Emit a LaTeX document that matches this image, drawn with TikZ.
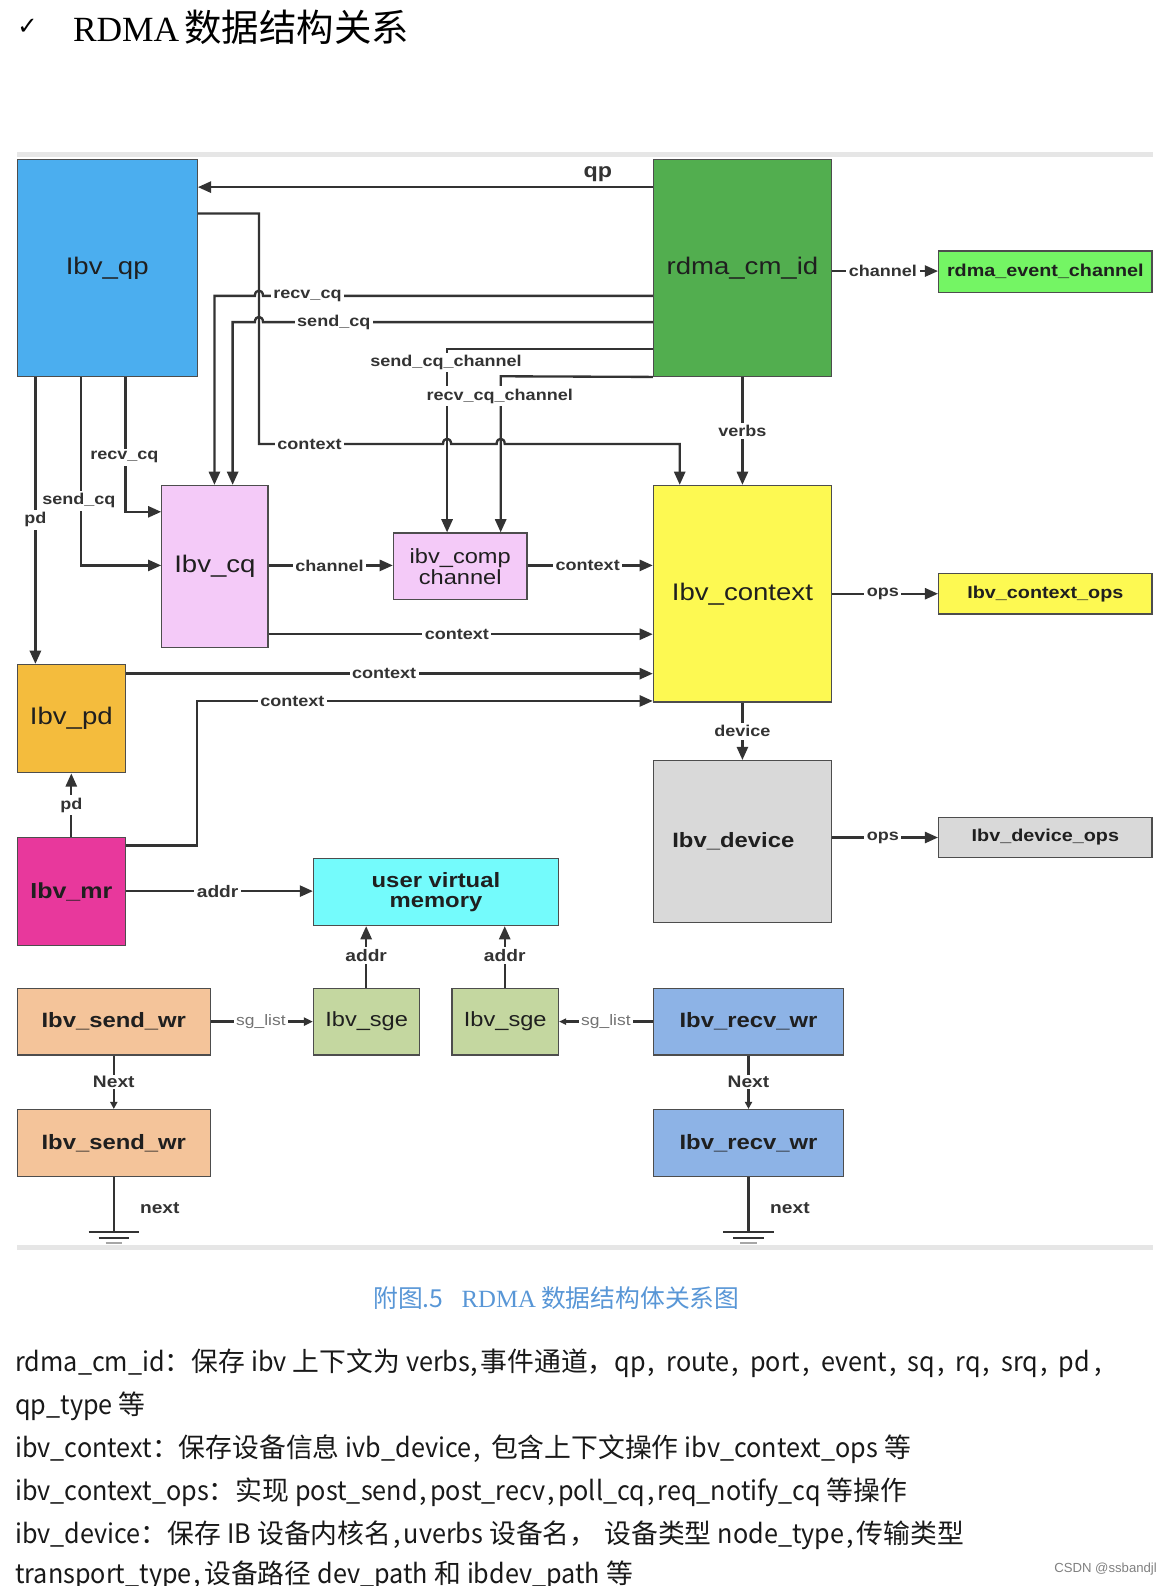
\documentclass[tikz,border=0pt]{standalone}
\usepackage{fontspec}
\setmainfont{Liberation Sans}
\newfontfamily\nf[FakeStretch=1.15]{Liberation Sans}
\newfontfamily\plainsans{Liberation Sans}
\newfontfamily\cjk{Noto Sans CJK SC}
\newfontfamily\latf[FakeStretch=0.94]{Noto Sans CJK SC}
\newfontfamily\serifrm{Liberation Serif}
\newfontfamily\dvs{DejaVu Sans}
\usetikzlibrary{arrows.meta}
\definecolor{cqp}{HTML}{4BAEEF}
\definecolor{ccm}{HTML}{52AE4F}
\definecolor{cevt}{HTML}{74F564}
\definecolor{cpink}{HTML}{F4CAF8}
\definecolor{cyel}{HTML}{FDF952}
\definecolor{cdev}{HTML}{D9D9D9}
\definecolor{cpd}{HTML}{F4BC3D}
\definecolor{cmr}{HTML}{E8389C}
\definecolor{cuvm}{HTML}{74FBFC}
\definecolor{cswr}{HTML}{F4C49A}
\definecolor{csge}{HTML}{C4D7A0}
\definecolor{crwr}{HTML}{8DB3E6}
\definecolor{cline}{HTML}{333333}
\definecolor{cbord}{HTML}{4D4D4D}
\definecolor{csep}{HTML}{E6E6E6}
\definecolor{ccap}{HTML}{5896D6}
\newcommand\fbig{\nf\fontsize{23.7}{26}\selectfont}
\newcommand\fbld{\nf\bfseries\fontsize{20.5}{21}\selectfont}
\newcommand\fmid{\nf\fontsize{20.3}{22}\selectfont}
\newcommand\fops{\nf\bfseries\fontsize{17}{20}\selectfont}
\newcommand\flab{\nf\bfseries\fontsize{15.5}{18}\selectfont}
\newcommand\fnxt{\nf\bfseries\fontsize{16.5}{18}\selectfont}
\newcommand\fbody{\cjk\fontsize{26.5}{30}\selectfont}
\newcommand\la[1]{{\latf #1}}
\newcommand\cc{\hspace{2pt},\hspace{11pt}}
\newcommand\nc{\hspace{2pt},\hspace{3pt}}
\begin{document}
\begin{tikzpicture}[x=1pt,y=-1pt,
  box/.style={draw=cbord, line width=1.3pt, inner sep=0pt, text=black!88},
  conn/.style={draw=cline, line width=2.3pt},
  arr/.style={conn, -{Triangle[length=13pt,width=11pt]}},
  sarr/.style={conn, -{Triangle[length=7pt,width=7pt]}},
  lab/.style={fill=white, inner sep=2.5pt, text=cline, font=\flab},
  bodyline/.style={anchor=base west, inner sep=0pt, font=\fbody, text=black!90},
]
\useasboundingbox (0,0) rectangle (1159,1568);
% title
\node[anchor=west, inner sep=0pt] (tick) at (17,27) {\dvs\fontsize{24}{28}\selectfont ✓};
\node[anchor=west, inner sep=0pt] (title) at (72,27) {\serifrm\fontsize{35}{40}\selectfont RDMA\hspace{5pt}\cjk\fontsize{37}{40}\selectfont 数据结构关系};
% separators
\fill[csep] (17,150) rectangle (1140,155);
\fill[csep] (17,1231) rectangle (1140,1236);
% boxes
\node[box, fill=cqp, minimum width=178pt, minimum height=214pt, font=\fbig] (qp) at (106,265) {Ibv\_qp};
\node[box, fill=ccm, minimum width=176pt, minimum height=214pt, font=\fbig] (cm) at (734,265) {rdma\_cm\_id};
\node[box, fill=cevt, minimum width=211pt, minimum height=41pt, font=\fops] (evt) at (1033.5,268.5) {rdma\_event\_channel};
\node[box, fill=cpink, minimum width=105pt, minimum height=160pt, font=\fbig] (cq) at (212.5,560) {Ibv\_cq};
\node[box, fill=cpink, minimum width=132pt, minimum height=66pt, font=\fmid, align=center] (comp) at (455,560) {ibv\_comp\\[-1pt]channel};
\node[box, fill=cyel, minimum width=176pt, minimum height=214pt, font=\fbig] (ctx) at (734,587) {Ibv\_context};
\node[box, fill=cyel, minimum width=211pt, minimum height=40pt, font=\fops] (ctxops) at (1033.5,587) {Ibv\_context\_ops};
\node[box, fill=cdev, minimum width=176pt, minimum height=160pt, font=\fbld] (dev) at (734,832) {\hspace{-18pt}Ibv\_device};
\node[box, fill=cdev, minimum width=211pt, minimum height=40pt, font=\fops] (devops) at (1033.5,828) {Ibv\_device\_ops};
\node[box, fill=cpd, minimum width=107pt, minimum height=107pt, font=\fbig] (pd) at (70.5,710.5) {Ibv\_pd};
\node[box, fill=cmr, minimum width=107pt, minimum height=107pt, font=\nf\bfseries\fontsize{21.5}{24}\selectfont] (mr) at (70.5,881.5) {Ibv\_mr};
\node[box, fill=cuvm, minimum width=242pt, minimum height=66pt, font=\fbld, align=center] (uvm) at (431,882) {user virtual\\[-1pt]memory};
\node[box, fill=cswr, minimum width=191pt, minimum height=66pt, font=\fbld] (swr1) at (112.5,1010) {Ibv\_send\_wr};
\node[box, fill=csge, minimum width=105pt, minimum height=66pt, font=\fmid] (sge1) at (362.5,1010) {Ibv\_sge};
\node[box, fill=csge, minimum width=105pt, minimum height=66pt, font=\fmid] (sge2) at (499.5,1010) {Ibv\_sge};
\node[box, fill=crwr, minimum width=188pt, minimum height=66pt, font=\fbld] (rwr1) at (740,1010) {Ibv\_recv\_wr};
\node[box, fill=cswr, minimum width=191pt, minimum height=66pt, font=\fbld] (swr2) at (112.5,1130) {Ibv\_send\_wr};
\node[box, fill=crwr, minimum width=188pt, minimum height=66pt, font=\fbld] (rwr2) at (740,1130) {Ibv\_recv\_wr};
% connectors
\draw[arr] (cm.west |- 0,185) -- (qp.east |- 0,185);
\node[inner sep=0pt, text=cline, font=\nf\bfseries\fontsize{20}{22}\selectfont] (lqp) at (591,172) {qp};
\draw[arr] (cm.east |- 0,268) -- (evt.west |- 0,268) node[lab, pos=0.48] (lch) {channel};
% context from qp (hops over the two channel lines)
\draw[arr] (qp.east |- 0,211) -- (256,211) -- (256,439) -- (438,439)
   .. controls (438,432) and (446,432) .. (446,439) -- (491,439)
   .. controls (491,432) and (499,432) .. (499,439) -- (672,439) -- (ctx.north -| 672,0);
\node[lab] (lctx1) at (306,439) {context};
% recv_cq / send_cq from cm_id (hop over x=256)
\draw[arr] (cm.west |- 0,292.5) -- (260,292.5) .. controls (260,285.5) and (252,285.5) .. (252,292.5) -- (212,292.5) -- (cq.north -| 212,0);
\node[lab] (lrcq) at (304,292.5) {recv\_cq};
\draw[arr] (cm.west |- 0,318.5) -- (260,318.5) .. controls (260,311.5) and (252,311.5) .. (252,318.5) -- (230,318.5) -- (cq.north -| 230,0);
\node[lab] (lscq) at (330,318.5) {send\_cq};
% channels
\draw[arr] (cm.west |- 0,345) -- (442,345) -- (comp.north -| 442,0);
\draw[arr] (cm.south west) -- (495,372) -- (comp.north -| 495,0);
\node[lab] (lscc) at (441,358.5) {send\_cq\_channel};
\node[lab] (lrcc) at (494,391.5) {recv\_cq\_channel};
% verbs
\draw[arr] (cm.south) -- (ctx.north) node[lab, midway] (lverbs) {verbs};
% from qp bottom
\draw[arr] (qp.south -| 35,0) -- (pd.north -| 35,0);
\node[lab] (lpd1) at (35,514) {pd};
\draw[arr] (qp.south -| 80,0) -- (80,559) -- (cq.west |- 0,559);
\node[lab] (lscq2) at (78,495) {send\_cq};
\draw[arr] (qp.south -| 124,0) -- (124,506) -- (cq.west |- 0,506);
\node[lab] (lrcq2) at (123,452) {recv\_cq};
% cq -> comp -> ctx
\draw[arr] (cq.east |- 0,559) -- (comp.west |- 0,559) node[lab, pos=0.49] (lch2) {channel};
\draw[arr] (comp.east |- 0,559) -- (ctx.west |- 0,559) node[lab, pos=0.48] (lctx2) {context};
\draw[arr] (cq.east |- 0,627) -- (ctx.west |- 0,627) node[lab, pos=0.49] (lctx3) {context};
\draw[arr] (pd.east |- 0,666) -- (ctx.west |- 0,666) node[lab, pos=0.49] (lctx4) {context};
\draw[arr] (mr.east |- 0,836) -- (195,836) -- (195,693) -- (ctx.west |- 0,693);
\node[lab] (lctx5) at (289,693) {context};
\draw[arr] (mr.north) -- (pd.south) node[lab, midway] (lpd2) {pd};
% ctx right/bottom
\draw[arr] (ctx.east) -- (ctxops.west) node[lab, pos=0.48] (lops1) {ops};
\draw[arr] (ctx.south) -- (dev.north) node[lab, midway] (ldev) {device};
\draw[arr] (dev.east |- 0,828) -- (devops.west) node[lab, pos=0.48] (lops2) {ops};
% memory
\draw[arr] (mr.east |- 0,881) -- (uvm.west |- 0,881) node[lab, font=\fnxt, pos=0.49] (laddr1) {addr};
\draw[arr] (sge1.north -| 362,0) -- (uvm.south -| 362,0) node[lab, font=\fnxt, pos=0.52] (laddr2) {addr};
\draw[arr] (sge2.north -| 499,0) -- (uvm.south -| 499,0) node[lab, font=\fnxt, pos=0.52] (laddr3) {addr};
% sg lists
\draw[conn, -{Triangle[length=9pt,width=8pt]}] (swr1.east) -- (sge1.west) node[lab, pos=0.49, font=\nf\fontsize{15}{18}\selectfont, text=black!55] (lsg1) {sg\_list};
\draw[conn, -{Triangle[length=7pt,width=6pt]}] (rwr1.west) -- (sge2.east) node[lab, pos=0.5, font=\nf\fontsize{15}{18}\selectfont, text=black!55] (lsg2) {sg\_list};
% next chains
\draw[sarr] (swr1.south) -- (swr2.north) node[lab, midway, font=\fnxt, inner sep=1pt] (lnx1) {Next};
\draw[sarr] (rwr1.south) -- (rwr2.north) node[lab, midway, font=\fnxt, inner sep=1pt] (lnx2) {Next};
% grounds
\coordinate (g1) at (112.5,1218);
\coordinate (g2) at (740,1218);
\draw[conn] (swr2.south) -- (g1);
\draw[conn] (rwr2.south) -- (g2);
\foreach \g in {g1,g2}{
  \draw[conn] ([xshift=-25pt]\g) -- ([xshift=25pt]\g);
  \draw[conn] ([xshift=-15pt,yshift=-6pt]\g) -- ([xshift=15pt,yshift=-6pt]\g);
  \draw[draw=black!35, line width=2pt] ([xshift=-8pt,yshift=-11pt]\g) -- ([xshift=8pt,yshift=-11pt]\g);
}
\node[inner sep=0pt, font=\fnxt, text=cline] (lnext1) at (158,1194) {next};
\node[inner sep=0pt, font=\fnxt, text=cline] (lnext2) at (781,1194) {next};
% caption
\node[inner sep=0pt, text=ccap] (cap) at (550,1283) {\cjk\fontsize{24.5}{28}\selectfont 附图.5\hspace{18pt}{\serifrm RDMA}\hspace{5pt}数据结构体关系图};
% body text
\node[bodyline] (t1) at (15,1356) {\la{rdma\_cm\_id}：保存 \la{ibv} 上下文为 \la{verbs},\hspace{3pt}事件通道，\la{qp}\cc\la{route}\cc\la{port}\cc\la{event}\cc\la{sq}\cc\la{rq}\cc\la{srq}\cc\la{pd}\hspace{4pt},};
\node[bodyline] (t2) at (15,1398) {\la{qp\_type} 等};
\node[bodyline] (t3) at (15,1441) {\la{ibv\_context}：保存设备信息 \la{ivb\_device}\hspace{2pt},\hspace{10pt}包含上下文操作 \la{ibv\_context\_ops} 等};
\node[bodyline] (t4) at (15,1483) {\la{ibv\_context\_ops}：实现 \la{post\_send}\nc\la{post\_recv}\nc\la{poll\_cq}\nc\la{req\_notify\_cq} 等操作};
\node[bodyline] (t5) at (15,1526) {\la{ibv\_device}：保存 \la{IB} 设备内核名\nc\la{uverbs} 设备名，\hspace{8pt}设备类型 \la{node\_type}\nc 传输类型};
\node[bodyline] (t6) at (15,1566) {\la{transport\_type}\nc 设备路径 \la{dev\_path} 和 \la{ibdev\_path} 等};
\node[inner sep=0pt, text=black!50, font=\plainsans\fontsize{13}{15}\selectfont] (csdn) at (1093,1551) {CSDN @ssbandjl};
\end{tikzpicture}
\end{document}
